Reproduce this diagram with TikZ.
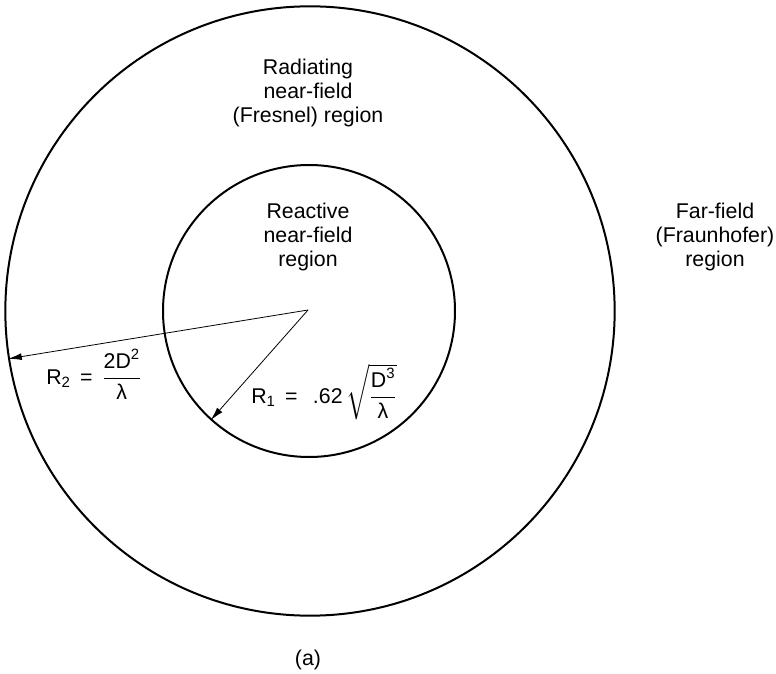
\documentclass[tikz,border=0pt]{standalone}
\usepackage{amsmath}
\usepackage{fontspec}
\setmainfont{Liberation Sans}
\usetikzlibrary{arrows.meta}

\begin{document}
\begin{tikzpicture}[
  x=.75pt,y=-.75pt,
  font=\fontsize{16}{18}\selectfont,
  ring/.style={draw,circle,line width=1.5pt,inner sep=0pt},
  txt/.style={align=center,inner sep=0pt},
  rad/.style={-{Latex[length=3.6mm,width=1.8mm]},line width=.6pt}
]
\useasboundingbox (0,0) rectangle (776,674);

\node[ring,minimum size=457pt] (outer) at (310,311) {};
\node[ring,minimum size=219pt] (inner) at (309,311) {};
\coordinate (src) at (308,310);

\node[txt] (fresnel) at (308,93) {Radiating\\near-field\\(Fresnel) region};
\node[txt] (reactive) at (308,237) {Reactive\\near-field\\region};
\node[txt] (far) at (715,237) {Far-field\\(Fraunhofer)\\region};

\draw[rad] (src) -- (outer.189);
\draw[rad] (src) -- (inner.228);

\node[txt,anchor=base west] (rtwo) at (46,384)
  {R\textsubscript{2}\, = \,$\dfrac{\text{2D}^{\text{2}}}{\text{λ}}$};
\node[txt,anchor=base west] (rone) at (251,403)
  {R\textsubscript{1}\, = \, .62\,$\sqrt{\dfrac{\text{D}^{\text{3}}}{\text{λ}}}$};

\node[txt] (cap) at (308,660) {(a)};
\end{tikzpicture}
\end{document}
